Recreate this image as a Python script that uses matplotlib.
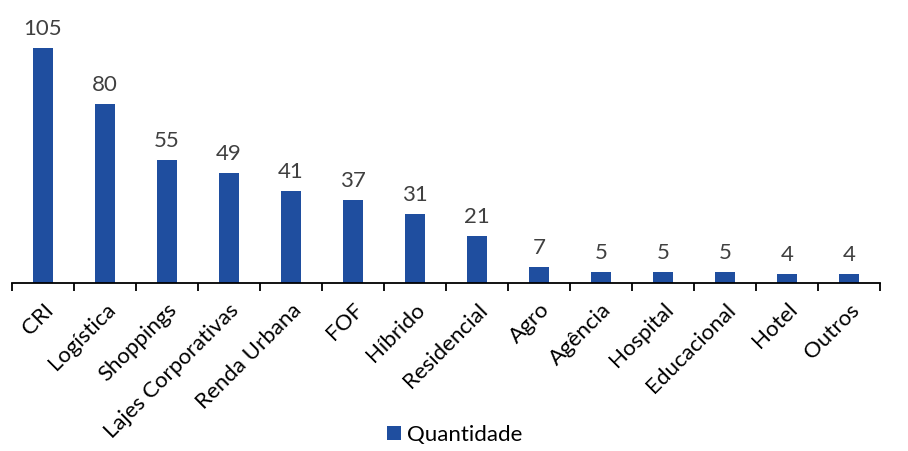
import matplotlib.pyplot as plt
import numpy as np

categorias = ['CRI', 'Logística', 'Shoppings', 'Lajes Corporativas', 'Renda Urbana', 'FOF',
              'Híbrido', 'Residencial', 'Agro', 'Agência', 'Hospital', 'Educacional', 'Hotel', 'Outros']
quantidade = [105, 80, 55, 49, 41, 37, 31, 21, 7, 5, 5, 5, 4, 4]

plt.rcParams['font.family'] = ['Lato', 'DejaVu Sans']

W, H = 908, 451
fig = plt.figure(figsize=(W / 100, H / 100), dpi=100)
# axes in pixel coordinates: left 12, right 880, top 20, bottom 283
ax = fig.add_axes([12 / W, 1 - 283 / H, (880 - 12) / W, (283 - 20) / H])

cor = '#1F4E9F'
x = np.arange(len(categorias))
bars = ax.bar(x, quantidade, width=0.31, color=cor, label='Quantidade')

for xi, v in zip(x, quantidade):
    ax.text(xi, v + 4, str(v), ha='center', va='bottom', fontsize=16, color='#404040')

ax.set_xlim(-0.5, len(categorias) - 0.5)
ax.set_ylim(0, 117.5)
ax.set_yticks([])
for s in ['top', 'right', 'left']:
    ax.spines[s].set_visible(False)
ax.spines['bottom'].set_color('#000000')
ax.spines['bottom'].set_linewidth(1.3)

# tick marks at category boundaries
ax.set_xticks(np.arange(len(categorias) + 1) - 0.5, minor=False)
ax.set_xticklabels([])
ax.tick_params(axis='x', which='major', length=6, width=1.3, color='#000000', direction='out')
ax.set_xticks(x, minor=True)
ax.set_xticklabels(categorias, minor=True, rotation=45, ha='right', rotation_mode='anchor',
                   fontsize=16, color='#000000')
ax.tick_params(axis='x', which='minor', length=0, pad=12)

fig.legend(handles=[bars], labels=['Quantidade'], loc='center', bbox_to_anchor=(455 / W, 1 - 435 / H),
           frameon=False, fontsize=16, handlelength=0.6, handleheight=0.6, handletextpad=0.3)

fig.savefig('out.png', dpi=100)
